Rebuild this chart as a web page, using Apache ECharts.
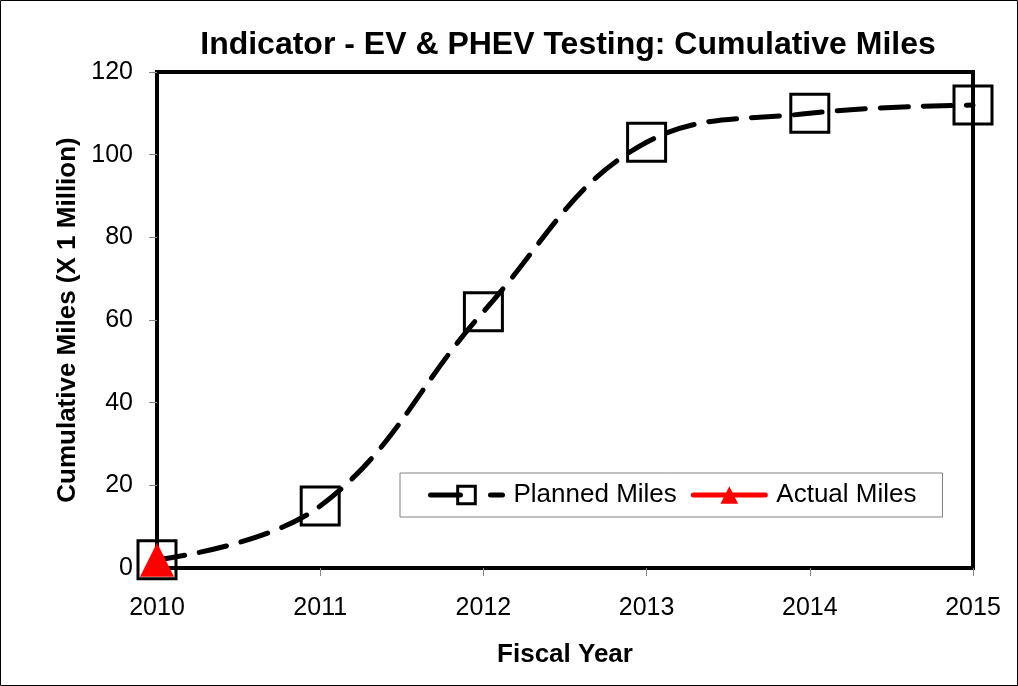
<!DOCTYPE html>
<html>
<head>
<meta charset="utf-8">
<script src="https://cdn.jsdelivr.net/npm/echarts@6/dist/echarts.min.js"></script>
<style>
  html, body { margin: 0; padding: 0; background: #fff; }
  #chart { width: 1018px; height: 686px; }
</style>
</head>
<body>
<div id="chart"></div>
<script>
const years = ['2010', '2011', '2012', '2013', '2014', '2015'];
const plannedMiles = [2, 15, 62, 103, 110, 112];
const actualMiles = [2, null, null, null, null, null];
const yTicks = { min: 0, max: 120, interval: 20 };

const font = "'Liberation Sans', Arial, sans-serif";

const chart = echarts.init(document.getElementById('chart'));
const option = {
  backgroundColor: '#fff',
  animation: false,
  textStyle: { fontFamily: font, color: '#000' },
  title: {
    text: 'Indicator - EV & PHEV Testing: Cumulative Miles',
    left: 563, top: 24, textAlign: 'center',
    textStyle: { fontFamily: font, fontSize: 32, fontWeight: 'bold', color: '#000' }
  },
  grid: {
    left: 157, top: 72, right: 45, bottom: 118,
    show: true, borderColor: '#000', borderWidth: 4
  },
  legend: {
    left: 400, top: 473,
    padding: [9, 26, 9, 28],
    itemGap: 14,
    itemWidth: 72, itemHeight: 22,
    borderColor: '#808080', borderWidth: 1,
    backgroundColor: '#fff',
    textStyle: { fontFamily: font, fontSize: 26, color: '#000', padding: [0, 0, 0, 6] },
    data: [
      {
        name: 'Planned Miles',
        itemStyle: { color: 'rgba(255,255,255,0)', borderColor: '#000', borderWidth: 3 },
        lineStyle: { color: '#000', width: 5, type: [30, 30], cap: 'round' }
      },
      {
        name: 'Actual Miles',
        itemStyle: { color: '#ff0000' },
        lineStyle: { color: '#ff0000', width: 5, cap: 'round' }
      }
    ]
  },
  xAxis: {
    type: 'category',
    data: years,
    boundaryGap: false,
    name: 'Fiscal Year',
    nameLocation: 'middle',
    nameGap: 74,
    nameTextStyle: { fontFamily: font, fontSize: 26, fontWeight: 'bold', color: '#000' },
    axisLine: { lineStyle: { color: '#000', width: 4 } },
    axisTick: { show: true, length: 8, lineStyle: { color: '#888', width: 1 } },
    axisLabel: { fontFamily: font, fontSize: 25, color: '#000', margin: 28 },
    splitLine: { show: false }
  },
  yAxis: {
    type: 'value',
    min: yTicks.min, max: yTicks.max, interval: yTicks.interval,
    name: 'Cumulative Miles (X 1 Million)',
    nameLocation: 'middle',
    nameGap: 76,
    nameTextStyle: { fontFamily: font, fontSize: 26, fontWeight: 'bold', color: '#000' },
    axisLine: { show: true, lineStyle: { color: '#000', width: 4 } },
    axisTick: { show: true, length: 8, lineStyle: { color: '#888', width: 1 } },
    axisLabel: { fontFamily: font, fontSize: 25, color: '#000', margin: 24 },
    splitLine: { show: false }
  },
  series: [
    {
      name: 'Planned Miles',
      type: 'line',
      data: plannedMiles,
      smooth: 0.4,
      clip: false,
      symbol: 'rect',
      symbolSize: 38,
      lineStyle: { color: '#000', width: 5, type: [28, 15], cap: 'round' },
      itemStyle: { color: 'rgba(255,255,255,0)', borderColor: '#000', borderWidth: 3 },
      z: 2
    },
    {
      name: 'Actual Miles',
      type: 'line',
      data: actualMiles,
      clip: false,
      symbol: 'triangle',
      symbolSize: [34, 34],
      lineStyle: { color: '#ff0000', width: 5 },
      itemStyle: { color: '#ff0000' },
      z: 3
    }
  ],
  graphic: [{
    type: 'rect',
    shape: { x: 0.5, y: 0.5, width: 1017, height: 685 },
    style: { fill: 'none', stroke: '#000', lineWidth: 1 },
    silent: true
  }]
};
chart.setOption(option);
</script>
</body>
</html>
